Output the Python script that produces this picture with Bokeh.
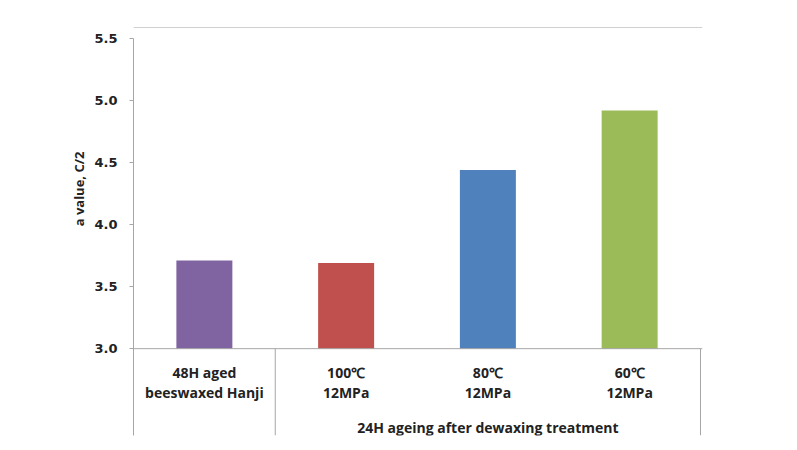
from bokeh.plotting import figure
from bokeh.layouts import column
from bokeh.models import (Range1d, FixedTicker, NumeralTickFormatter, Span, Title,
                          ColumnDataSource)
from bokeh.core.properties import value
from bokeh.embed import file_html
from bokeh.resources import INLINE

categories = ["48H aged\nbeeswaxed Hanji", "100\u2103\n12MPa", "80\u2103\n12MPa", "60\u2103\n12MPa"]
values = [3.71, 3.69, 4.44, 4.92]
colors = ["#8064A2", "#C0504D", "#4F81BD", "#9BBB59"]
group_label = "24H ageing after dewaxing treatment"
y_ticks = [3.0, 3.5, 4.0, 4.5, 5.0, 5.5]
y_title = "a value, C/2"

W, H = 797, 450
strip_h = 28
left, right, top, bottom = 133, 94, 38 - strip_h, 15
main_h = H - strip_h
frame_h = main_h - top - bottom
ymax = 5.5
ymin = 2.3
ppu = frame_h / (ymax - ymin)
base = 3.0

def y_at(px):
    return ymax - (px - strip_h - top) / ppu

# thin strip holding the chart-area top border line
s = figure(width=W, height=strip_h, output_backend="svg", toolbar_location=None,
           x_range=Range1d(0, 1), y_range=Range1d(0, strip_h),
           min_border_left=72, min_border_right=W - 702, min_border_top=0, min_border_bottom=0,
           x_axis_location=None, y_axis_location=None)
s.outline_line_color = None
s.grid.visible = False
s.add_layout(Span(location=0.5, dimension="width", line_color="#a0a0a0", line_width=1))

p = figure(width=W, height=main_h, output_backend="svg", toolbar_location=None,
           x_range=Range1d(0, 4.014), y_range=Range1d(ymin, ymax),
           min_border_left=left, min_border_right=right,
           min_border_top=top, min_border_bottom=bottom,
           x_axis_location=None)
p.outline_line_color = None
p.grid.visible = False

xc = [i + 0.5 for i in range(len(categories))]
src = ColumnDataSource(dict(x=xc, top=values, color=colors, label=categories,
                            bottom=[base] * len(values)))
p.vbar(x="x", top="top", bottom="bottom", width=0.395, color="color", source=src,
       line_color=None)

yax = p.yaxis[0]
yax.ticker = FixedTicker(ticks=y_ticks)
yax.formatter = NumeralTickFormatter(format="0.0")
yax.minor_tick_line_color = None
yax.major_tick_in = 0
yax.major_tick_out = 4
yax.major_tick_line_color = "#a6a6a6"
yax.axis_line_color = "#a6a6a6"
yax.major_label_text_font = "DejaVu Sans"
yax.major_label_text_font_style = "bold"
yax.major_label_text_font_size = "13px"
yax.major_label_text_color = "#222222"
yax.major_label_standoff = 12

p.add_layout(Title(text=y_title, align="right", offset=113, standoff=8,
                   text_font="Open Sans", text_font_style="bold", text_font_size="13px",
                   text_color="#222222"), "left")

p.add_layout(Span(location=base, dimension="width", line_color="#a6a6a6", line_width=1))
p.segment(x0=[1, 4], y0=[ymin, ymin], x1=[1, 4], y1=[base, base],
          line_color="#a6a6a6", line_width=1)

p.text(x="x", y=y_at(382), text="label", source=src,
       text_font=value("Open Sans"), text_font_style="bold", text_font_size="14px",
       text_align="center", text_baseline="middle", text_line_height=1.05,
       text_color="#222222")
p.text(x=[2.5], y=[y_at(427)], text=[group_label],
       text_font=value("Open Sans"), text_font_style="bold", text_font_size="14px",
       text_align="center", text_baseline="middle", text_color="#222222")

layout = column(s, p, spacing=0)
open("out.html", "w").write(file_html(layout, INLINE))
